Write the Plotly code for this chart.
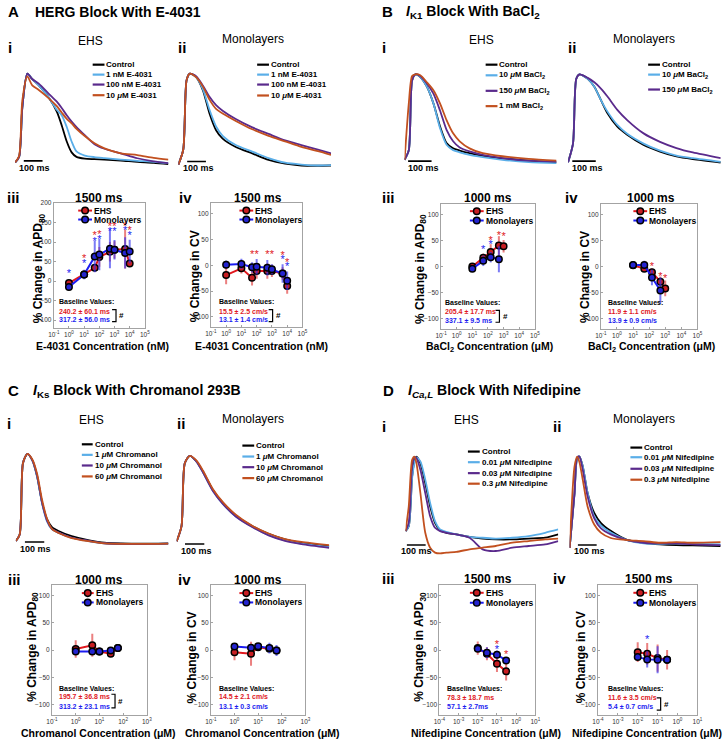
import plotly.graph_objects as go

W, H = 728, 739
FONT = "Liberation Sans"

C_CTRL = "#000000"
C_LB = "#5aaee8"
C_PU = "#5a2a8c"
C_OR = "#c2501f"
C_RED = "#e0181e"
C_BLUE = "#1c1cf0"
C_RED_ERR = "rgba(225,60,60,0.65)"
C_BLUE_ERR = "rgba(50,50,240,0.65)"

# ======================= DATA =======================
# ---- A: HERG block with E-4031 : action potentials (time ms, amplitude % of peak)
A_i_time = [0, 21, 38, 65, 91, 126, 178, 222, 248, 275, 301, 327, 371, 423, 476, 563, 651, 738, 817]
A_i_control = [2, 8, 62, 100, 94, 87, 74, 58, 43, 25, 13, 8, 6, 5.5, 5, 4, 2.5, 1.5, 0]
A_i_1nM = [2, 8, 62, 100, 94, 87, 74, 60, 54, 41, 25, 14, 9.5, 7.7, 6.6, 5, 3.7, 2.6, 1]
A_i_100nM = [2, 8, 62, 100, 94, 89, 78, 69, 62, 54, 47, 41, 32, 22, 17, 12, 6.5, 3, 1]
A_i_10uM = [2, 9, 70, 97, 87, 82, 73, 64, 57, 50, 45, 39, 31, 23, 17.5, 12, 10, 7, 5]

A_ii_time = [0, 26, 44, 61, 96, 131, 166, 201, 236, 306, 394, 481, 569, 656, 744, 814]
A_ii_control = [2, 18, 93, 100, 96, 82, 57, 39, 30, 21, 14, 7, 3, 1, 0.7, 1]
A_ii_1nM = [2, 18, 93, 100, 96, 83, 61, 43, 33, 23, 16, 9, 4, 2, 1, 1.4]
A_ii_100nM = [2, 18, 93, 100, 97, 87, 75, 66, 60, 51, 42, 35, 28, 23, 18, 14]
A_ii_10uM = [2, 18, 93, 100, 96, 86, 72, 62, 57, 49, 40, 33, 27, 21, 16.5, 12.5]

# ---- B: IK1 block with BaCl2
B_i_time = [0, 18, 32, 46, 67, 95, 123, 151, 179, 207, 235, 277, 333, 417, 529, 648]
B_i_control = [3, 14, 93, 100, 97, 86, 67, 41, 22, 16, 13.5, 10.5, 7.5, 4.5, 2, 0]
B_i_10uM = [3, 14, 93, 100, 97, 86, 67, 39, 20, 14, 11.5, 8.5, 6, 3, 0.4, -0.8]
B_i_150uM = [3, 14, 93, 100, 98, 89.5, 78, 59, 37, 24, 17, 12.5, 8.5, 5, 2, 1]
B_i_1mM = [3, 67, 98, 100, 99, 91, 82, 67, 48, 33, 24, 16, 10.5, 7, 4, 2]

B_ii_time = [0, 21, 35, 49, 84, 112, 140, 168, 210, 252, 322, 392, 462, 532, 651]
B_ii_control = [1, 22, 95, 100, 95, 86, 71, 56, 41, 32, 20.5, 13, 7.5, 4.5, 0.7]
B_ii_10uM = [1, 22, 95, 100, 95, 86, 71, 58, 43, 33, 22, 14, 8.5, 5.6, 1.5]
B_ii_150uM = [1, 22, 95, 100, 96, 91, 84, 75, 60, 48.5, 33.5, 24, 17, 12, 5.6]

# ---- C: IKs block with Chromanol 293B
C_i_time = [0, 20, 37, 60, 85, 110, 136, 162, 187, 221, 289, 374, 459, 629, 790]
C_i_control = [3.7, 11, 90, 100, 93, 75, 46, 27.5, 19, 14.7, 9, 4.8, 1.8, 0.7, 1.1]
C_i_1uM = [3.7, 11, 90, 100, 93, 75, 45, 25, 16.5, 12.8, 7.3, 3.7, 1, 0.4, 0.7]
C_i_10uM = [3.7, 11, 90, 100, 93, 76, 46, 26, 17, 13, 7.5, 4, 1.2, 0.4, 0.9]
C_i_60uM = [3.7, 11, 90, 100, 94, 78, 49, 28, 17, 12.5, 7, 3.5, 1, 0.5, 0.9]

C_ii_time = [0, 25, 42, 68, 102, 136, 187, 238, 306, 391, 476, 561, 646, 790]
C_ii_control = [7, 23.5, 92, 100, 94, 83, 63, 49, 35, 23.5, 15, 9, 5.4, 1.8]
C_ii_1uM = [7, 23.5, 92, 100, 94, 82, 62, 48, 34, 23, 14, 8, 4.5, 1]
C_ii_10uM = [7, 23.5, 92, 100, 94, 82, 62, 48, 34, 22.5, 13.5, 7.5, 4, 0]
C_ii_60uM = [7, 23.5, 92, 100, 95, 84, 64, 50, 36, 24, 15.5, 9.5, 6.5, 2.9]

# ---- D: ICa,L block with Nifedipine
D_i_time = [0, 17, 35, 47, 58, 79, 105, 131, 157, 184, 219, 271, 341, 411, 481, 569, 656, 744, 814]
D_i_control = [10, 16, 76, 94, 100, 92, 68, 40, 20, 11, 8, 6, 3, 1, 0, 0, 1, 2, 6]
D_i_001uM = [10, 16, 74, 92, 99, 94, 72, 44, 22, 12, 9, 6, 3, 2, 1, 2, 4, 8, 12]
D_i_003uM = [10, 20, 88, 99, 98, 84, 56, 28, 14, 10, 8, 6, 2, -12, -14, -10, -8, -6, -2]
D_i_03uM = [10, 40, 96, 100, 92, 56, 8, -10, -16, -17, -16, -15, -12, -10, -8, -4, -2, 0, 1]

D_ii_time = [0, 26, 40, 52, 70, 96, 131, 166, 219, 306, 394, 481, 569, 656, 805]
D_ii_control = [-2, 59, 98, 100, 89, 59, 37, 26, 17, 7, 3.7, 1.9, 1, 0.7, 0]
D_ii_001uM = [-2, 59, 98, 100, 89, 59, 33, 23, 15, 6.7, 3, 2.6, 3, 2.6, 1.9]
D_ii_003uM = [-2, 59, 99, 100, 85, 55, 31, 20, 13, 6.7, 3.7, 3, 3, 1.9, 1.1]
D_ii_03uM = [-2, 89, 100, 94, 74, 44, 24, 15, 9, 6.7, 5.6, 3.7, 4.4, 3.7, 4.4]

# ---- Dose-response (% change), concentrations
A_conc_nM = [1, 10, 50, 100, 500, 1000, 5000, 10000]
A_iii_ehs = [-5, 17, 34, 62, 75, 80, 82, 45]
A_iii_ehs_err = [8, 10, 10, 25, 25, 22, 50, 8]
A_iii_mono = [-15, 17, 63, 68, 83, 80, 72, 76]
A_iii_mono_err = [8, 12, 40, 40, 50, 25, 40, 30]
A_iii_star_ehs_x = [10, 50, 100, 500, 1000, 5000, 10000]
A_iii_star_ehs_y = [56, 114, 118, 137, 137, 139, 127]
A_iii_star_mono_x = [1, 10, 50, 100, 500, 1000, 5000, 10000]
A_iii_star_mono_y = [18, 44, 100, 104, 124, 124, 127, 114]

A_iv_ehs = [-19, -6, -24, -11, -11, -11, -16, -40]
A_iv_ehs_err = [18, 10, 15, 15, 15, 12, 12, 15]
A_iv_mono = [1, 2.5, -4, -3, -5, -8, -16, -30]
A_iv_mono_err = [8, 10, 10, 15, 15, 10, 18, 18]
A_iv_star_ehs_x = [50, 100, 500, 1000, 5000, 10000]
A_iv_star_ehs_y = [20, 19, 20, 20, 18, 4]
A_iv_star_mono_x = [5000, 10000]
A_iv_star_mono_y = [9.5, -3.5]

B_conc_ehs = [10, 50, 150, 500, 1000]
B_conc_mono = [10, 50, 150, 500]
B_iii_ehs = [0, 17, 28, 40.5, 39]
B_iii_ehs_err = [5, 8, 15, 18, 12]
B_iii_mono = [-4, 11, 18, 14]
B_iii_mono_err = [3, 10, 10, 25]
B_iii_star_ehs_x = [150, 500, 1000]
B_iii_star_ehs_y = [48, 58, 56]
B_iii_star_mono_x = [50, 150]
B_iii_star_mono_y = [31, 40]

B_iv_ehs = [2.5, -4, -11, -29, -42]
B_iv_ehs_err = [3, 5, 8, 10, 15]
B_iv_mono = [3, 3, -21, -46]
B_iv_mono_err = [3, 8, 15, 25]
B_iv_star_ehs_x = [150, 500, 1000]
B_iv_star_ehs_y = [-2, -21, -25]

C_conc_uM = [1, 5, 10, 30, 60]
C_iii_ehs = [2, 9, -2.5, -6.5, 3.7]
C_iii_ehs_err = [16, 21, 4, 5, 5]
C_iii_mono = [-2.4, -2.4, -2.4, -0.6, 3.7]
C_iii_mono_err = [5, 5, 5, 5, 5]
C_iv_ehs = [-3.7, -6.7, 5.5, 2.4, -0.6]
C_iv_ehs_err = [15, 22, 5, 5, 5]
C_iv_mono = [6.7, 4.3, 7.3, 3.7, -0.6]
C_iv_mono_err = [5, 5, 5, 10, 10]

D_conc_uM = [0.01, 0.03, 0.1, 0.3]
D_iii_ehs = [3.7, -6.7, -25, -39]
D_iii_ehs_err = [12, 12, 15, 17]
D_iii_mono = [2.4, -4.9, -8.5, -19]
D_iii_mono_err = [5, 10, 8, 5]
D_iii_star_ehs_x = [0.1, 0.3]
D_iii_star_ehs_y = [9.5, -10]
D_iii_star_mono_x = [0.1]
D_iii_star_mono_y = [0.5]
D_iv_ehs = [-3.7, -6.7, -14.6, -17.7]
D_iv_ehs_err = [18, 20, 25, 18]
D_iv_mono = [-12.8, -17, -17.7, -17.7]
D_iv_mono_err = [5, 15, 25, 5]
D_iv_star_mono_x = [0.03]
D_iv_star_mono_y = [18.5]

# Baseline values text
BASE = {
    "Aiii": ("240.2 ± 60.1 ms", "317.2 ± 56.0 ms"),
    "Aiv": ("15.5 ± 2.5 cm/s", "13.1 ± 1.4 cm/s"),
    "Biii": ("205.4 ± 17.7 ms", "337.1 ± 9.5 ms"),
    "Biv": ("11.9 ± 1.1 cm/s", "13.9 ± 0.9 cm/s"),
    "Ciii": ("195.7 ± 36.8 ms", "313.2 ± 23.1 ms"),
    "Civ": ("14.5 ± 2.1 cm/s", "13.1 ± 0.3 cm/s"),
    "Diii": ("78.3 ± 18.7 ms", "57.1 ± 2.7ms"),
    "Div": ("11.6 ± 3.5 cm/s", "5.4 ± 0.7 cm/s"),
}

# ======================= FIGURE =======================
fig = go.Figure()
layout = {}
annotations = []
shapes = []


def fx(px):
    return px / W


def fy(py):
    return 1 - py / H


def ann(text, px, py, size=8, color="#000", xanchor="left", yanchor="middle",
        angle=0, bold=True, family=FONT):
    t = f"<b>{text}</b>" if bold else text
    annotations.append(dict(text=t, x=fx(px), y=fy(py), xref="paper", yref="paper",
                            xanchor=xanchor, yanchor=yanchor, showarrow=False,
                            textangle=angle, borderpad=0,
                            font=dict(size=size, color=color, family=family)))


def axkeys(n):
    return ("xaxis" if n == 1 else f"xaxis{n}", "yaxis" if n == 1 else f"yaxis{n}",
            "x" if n == 1 else f"x{n}", "y" if n == 1 else f"y{n}")


def trace_panel(n, x0, msppx, tmax, base, peak, t, series, bar_t, bar_py,
                lab_px, lab_py, leg_x0, leg_x1, leg_tx, leg_rows):
    xk, yk, xr, yr = axkeys(n)
    k = (base - peak) / 100.0
    ymin, ymax = -30, 110
    top = peak - (ymax - 100) * k
    bot = base - ymin * k
    layout[xk] = dict(domain=[fx(x0), fx(x0 + tmax / msppx)], range=[0, tmax],
                      visible=False, anchor=yr)
    layout[yk] = dict(domain=[fy(bot), fy(top)], range=[ymin, ymax], visible=False, anchor=xr)
    for name, vals, col in series:
        fig.add_trace(go.Scatter(x=t, y=vals, mode="lines", name=name,
                                 line=dict(color=col, width=1.8, shape="spline", smoothing=0.7),
                                 xaxis=xr, yaxis=yr, showlegend=False, hoverinfo="skip"))
    # 100 ms scale bar
    shapes.append(dict(type="line", xref=xr, yref="paper", x0=bar_t, x1=bar_t + 100,
                       y0=fy(bar_py), y1=fy(bar_py), line=dict(color="black", width=1.6)))
    ann("100 ms", lab_px, lab_py, size=9)
    # legend
    for (name, _, col), py in zip(series, leg_rows):
        shapes.append(dict(type="line", xref="paper", yref="paper", x0=fx(leg_x0), x1=fx(leg_x1),
                           y0=fy(py), y1=fy(py), line=dict(color=col, width=2.2)))
        ann(name, leg_tx, py, size=8)


def dose_panel(n, bx0, bx1, by0, by1, yrange, xexp, yticks,
               ex, ey, ee, mx, my, me, sex=None, sey=None, smx=None, smy=None,
               leg_x0=0, leg_x1=0, leg_tx=0, leg_rows=(0, 0)):
    xk, yk, xr, yr = axkeys(n)
    tv = [10.0 ** e for e in range(xexp[0], xexp[1] + 1)]
    tt = [f"10<sup>{e}</sup>" for e in range(xexp[0], xexp[1] + 1)]
    common = dict(showline=True, mirror=True, linecolor="#a3a3a3", linewidth=1,
                  showgrid=False, zeroline=False, ticks="inside", ticklen=2,
                  tickcolor="#a3a3a3", tickfont=dict(size=6.5, color="#333", family=FONT))
    layout[xk] = dict(domain=[fx(bx0), fx(bx1)], type="log", range=list(xexp),
                      tickvals=tv, ticktext=tt, anchor=yr, **common)
    layout[yk] = dict(domain=[fy(by1), fy(by0)], range=list(yrange), tickvals=yticks,
                      anchor=xr, **common)
    fig.add_trace(go.Scatter(x=ex, y=ey, mode="lines+markers", name="EHS",
                             line=dict(color=C_RED, width=2),
                             marker=dict(size=6.5, color="#c81e22", line=dict(color="black", width=1.5)),
                             error_y=dict(type="data", array=ee, color=C_RED_ERR, thickness=2, width=0),
                             xaxis=xr, yaxis=yr, showlegend=False, hoverinfo="skip"))
    fig.add_trace(go.Scatter(x=mx, y=my, mode="lines+markers", name="Monolayers",
                             line=dict(color=C_BLUE, width=2),
                             marker=dict(size=6.5, color="#2424d0", line=dict(color="black", width=1.5)),
                             error_y=dict(type="data", array=me, color=C_BLUE_ERR, thickness=2, width=0),
                             xaxis=xr, yaxis=yr, showlegend=False, hoverinfo="skip"))
    if sex:
        fig.add_trace(go.Scatter(x=sex, y=sey, mode="text", text=["*"] * len(sex),
                                 textfont=dict(size=11, color=C_RED, family=FONT),
                                 xaxis=xr, yaxis=yr, showlegend=False, hoverinfo="skip"))
    if smx:
        fig.add_trace(go.Scatter(x=smx, y=smy, mode="text", text=["*"] * len(smx),
                                 textfont=dict(size=11, color=C_BLUE, family=FONT),
                                 xaxis=xr, yaxis=yr, showlegend=False, hoverinfo="skip"))
    # legend
    for (name, col, fill), py in zip((("EHS", C_RED, "#c81e22"), ("Monolayers", C_BLUE, "#2424d0")), leg_rows):
        shapes.append(dict(type="line", xref="paper", yref="paper", x0=fx(leg_x0), x1=fx(leg_x1),
                           y0=fy(py), y1=fy(py), line=dict(color=col, width=2)))
        cx = (leg_x0 + leg_x1) / 2
        shapes.append(dict(type="circle", xref="paper", yref="paper", x0=fx(cx - 3.3), x1=fx(cx + 3.3),
                           y0=fy(py + 3.3), y1=fy(py - 3.3), fillcolor=fill,
                           line=dict(color="black", width=1.5)))
        ann(name, leg_tx, py, size=8.5)


def baseline(key, px, rows, bracket=None):
    red, blue = BASE[key]
    ann("Baseline Values:", px, rows[0], size=7)
    ann(red, px, rows[1], size=7, color=C_RED)
    ann(blue, px, rows[2], size=7, color=C_BLUE)
    if bracket:
        bx0, bx1, byt, byb, hx = bracket
        shapes.append(dict(type="path", xref="paper", yref="paper",
                           path=f"M {fx(bx0)},{fy(byt)} L {fx(bx1)},{fy(byt)} L {fx(bx1)},{fy(byb)} L {fx(bx0)},{fy(byb)}",
                           line=dict(color="black", width=1.2)))
        ann("#", hx, (byt + byb) / 2, size=8)


mu = "<i>μ</i>"

# ---------------- trace panels ----------------
trace_panel(1, 9.3, 5.25, 817, 161, 70, A_i_time,
            [("Control", A_i_control, C_CTRL), ("1 nM E-4031", A_i_1nM, C_LB),
             ("100 nM E-4031", A_i_100nM, C_PU), (f"10 {mu}M E-4031", A_i_10uM, C_OR)],
            46, 157.7, 12.5, 164.5, 88, 100, 101, [61, 71, 81, 91.7])
trace_panel(2, 175, 5.25, 814, 163.3, 70, A_ii_time,
            [("Control", A_ii_control, C_CTRL), ("1 nM E-4031", A_ii_1nM, C_LB),
             ("100 nM E-4031", A_ii_100nM, C_PU), (f"10 {mu}M E-4031", A_ii_10uM, C_OR)],
            47, 158.3, 178.5, 164.5, 255, 267, 268, [61, 71, 81, 92])
trace_panel(3, 404.7, 4.2, 648, 159.3, 70.7, B_i_time,
            [("Control", B_i_control, C_CTRL), (f"10 {mu}M BaCl<sub>2</sub>", B_i_10uM, C_LB),
             (f"150 {mu}M BaCl<sub>2</sub>", B_i_150uM, C_PU), ("1 mM BaCl<sub>2</sub>", B_i_1mM, C_OR)],
            15, 158, 407, 165, 487, 499, 500, [61, 71.7, 87.3, 102.7])
trace_panel(4, 570.7, 4.2, 651, 160, 70.7, B_ii_time,
            [("Control", B_ii_control, C_CTRL), (f"10 {mu}M BaCl<sub>2</sub>", B_ii_10uM, C_LB),
             (f"150 {mu}M BaCl<sub>2</sub>", B_ii_150uM, C_PU)],
            18, 158, 573.5, 165, 652, 664, 665, [61, 71, 86])
trace_panel(5, 10, 5.1, 790, 543.3, 452.3, C_i_time,
            [("Control", C_i_control, C_CTRL), (f"1 {mu}M Chromanol", C_i_1uM, C_LB),
             (f"10 {mu}M Chromanol", C_i_10uM, C_PU), (f"60 {mu}M Chromanol", C_i_60uM, C_OR)],
            47, 541, 13, 548, 77, 88, 89, [442.7, 453.3, 464, 475])
trace_panel(6, 173.3, 5.1, 790, 546.7, 454.3, C_ii_time,
            [("Control", C_ii_control, C_CTRL), (f"1 {mu}M Chromanol", C_ii_1uM, C_LB),
             (f"10 {mu}M Chromanol", C_ii_10uM, C_PU), (f"60 {mu}M Chromanol", C_ii_60uM, C_OR)],
            43, 543, 176.5, 549.5, 240, 252, 253, [444, 455, 465.7, 476.7])
trace_panel(7, 405.7, 5.25, 814, 538.3, 455, D_i_time,
            [("Control", D_i_control, C_CTRL), (f"0.01 {mu}M Nifedipine", D_i_001uM, C_LB),
             (f"0.03 {mu}M Nifedipine", D_i_003uM, C_PU), (f"0.3 {mu}M Nifedipine", D_i_03uM, C_OR)],
            7, 544, 400.5, 549.5, 469, 481, 482, [450, 460.7, 471.7, 482.3])
trace_panel(8, 572.3, 5.25, 805, 545, 455, D_ii_time,
            [("Control", D_ii_control, C_CTRL), (f"0.01 {mu}M Nifedipine", D_ii_001uM, C_LB),
             (f"0.03 {mu}M Nifedipine", D_ii_003uM, C_PU), (f"0.3 {mu}M Nifedipine", D_ii_03uM, C_OR)],
            44, 544, 576, 549.5, 634, 646, 647, [446, 455.7, 467.3, 478.3])

# ---------------- dose-response panels ----------------
Y5 = [-100, -50, 0, 50, 100]
dose_panel(9, 48.5, 141, 200, 325.8, (-120, 200), (-1, 5), [-100, -50, 0, 50, 100, 150, 200],
           A_conc_nM, A_iii_ehs, A_iii_ehs_err, A_conc_nM, A_iii_mono, A_iii_mono_err,
           A_iii_star_ehs_x, A_iii_star_ehs_y, A_iii_star_mono_x, A_iii_star_mono_y,
           73.3, 87.3, 88.3, (207.7, 216.7))
dose_panel(10, 208, 301, 200.3, 325, (-120, 120), (-1, 5), Y5,
           A_conc_nM, A_iv_ehs, A_iv_ehs_err, A_conc_nM, A_iv_mono, A_iv_mono_err,
           A_iv_star_ehs_x, A_iv_star_ehs_y, A_iv_star_mono_x, A_iv_star_mono_y,
           237, 251, 252, (207.7, 216.7))
dose_panel(11, 441.7, 537, 201.2, 326.8, (-120, 120), (-1, 5), Y5,
           B_conc_ehs, B_iii_ehs, B_iii_ehs_err, B_conc_mono, B_iii_mono, B_iii_mono_err,
           B_iii_star_ehs_x, B_iii_star_ehs_y, B_iii_star_mono_x, B_iii_star_mono_y,
           471, 485, 486, (208.3, 217.7))
dose_panel(12, 604, 702, 201.2, 326.8, (-120, 120), (-1, 5), Y5,
           B_conc_ehs, B_iv_ehs, B_iv_ehs_err, B_conc_mono, B_iv_mono, B_iv_mono_err,
           B_iv_star_ehs_x, B_iv_star_ehs_y, None, None,
           637, 651, 652, (208.3, 217.7))
dose_panel(13, 46.7, 143, 584, 715.3, (-120, 120), (-1, 3), Y5,
           C_conc_uM, C_iii_ehs, C_iii_ehs_err, C_conc_uM, C_iii_mono, C_iii_mono_err,
           None, None, None, None, 77, 89, 90, (592.3, 601.7))
dose_panel(14, 208, 304, 584, 715.3, (-120, 120), (-1, 3), Y5,
           C_conc_uM, C_iv_ehs, C_iv_ehs_err, C_conc_uM, C_iv_mono, C_iv_mono_err,
           None, None, None, None, 237, 251, 252, (592.3, 601.7))
dose_panel(15, 440, 537.5, 584, 715.3, (-120, 120), (-4, 1), Y5,
           D_conc_uM, D_iii_ehs, D_iii_ehs_err, D_conc_uM, D_iii_mono, D_iii_mono_err,
           D_iii_star_ehs_x, D_iii_star_ehs_y, D_iii_star_mono_x, D_iii_star_mono_y,
           471, 485, 486, (592, 602))
dose_panel(16, 601, 702, 584, 715.3, (-120, 120), (-4, 1), Y5,
           D_conc_uM, D_iv_ehs, D_iv_ehs_err, D_conc_uM, D_iv_mono, D_iv_mono_err,
           None, None, D_iv_star_mono_x, D_iv_star_mono_y,
           637, 651, 652, (592, 602))

# baseline boxes
baseline("Aiii", 52.7, (299.3, 308.7, 317.7), (107.7, 111.7, 307.3, 319.3, 114))
baseline("Aiv", 215, (299.3, 308.7, 317.7), (266.7, 270.7, 307.3, 319.3, 273.5))
baseline("Biii", 445, (300, 309.3, 318.7), (497, 501, 308, 320, 504))
baseline("Biv", 610.7, (300, 309.3, 318.7))
baseline("Ciii", 52.7, (688.3, 696.7, 706), (107, 110.7, 694, 707.7, 113))
baseline("Civ", 215, (688.3, 696.7, 706))
baseline("Diii", 446.7, (688.3, 697, 706))
baseline("Div", 610.7, (688.3, 697, 706), (660.7, 664.7, 697.7, 710, 667))

# ---------------- headings & labels ----------------
ann("A", 1.5, 8, size=15)
ann("HERG Block With E-4031", 28, 8, size=14)
ann("B", 381, 8, size=15)
ann("<i>I</i><sub>K1</sub> Block With BaCl<sub>2</sub>", 405.5, 8.5, size=14)
ann("C", 1.5, 389, size=15)
ann("<i>I</i><sub>Ks</sub> Block With Chromanol 293B", 26.5, 389.5, size=14)
ann("D", 382, 388.5, size=15)
ann("<i>I<sub>Ca,L</sub></i> Block With Nifedipine", 407, 389, size=14)

for txt, px, py in [("i", 1.5, 43.3), ("ii", 174, 43.3), ("i", 381, 43.3), ("ii", 569.5, 43.3),
                    ("i", 0.5, 421.7), ("ii", 173, 422), ("i", 381, 424.3), ("ii", 554.5, 425),
                    ("iii", 0, 195), ("iv", 175, 195), ("iii", 381, 195), ("iv", 567, 195),
                    ("iii", 1.5, 579), ("iv", 174, 579), ("iii", 381, 578), ("iv", 554, 578)]:
    ann(txt, px, py, size=15)

for txt, px, py in [("EHS", 86, 36.7), ("Monolayers", 251, 35), ("EHS", 482.7, 36), ("Monolayers", 648, 35),
                    ("EHS", 86.5, 418.3), ("Monolayers", 251, 417.3), ("EHS", 468, 418.3),
                    ("Monolayers", 648, 417)]:
    ann(txt, px, py, size=12, xanchor="center", bold=False)

for txt, px, py in [("1500 ms", 94, 195.3), ("1500 ms", 255.8, 195.3), ("1000 ms", 489, 195.3),
                    ("1000 ms", 655, 195.3), ("1000 ms", 94.2, 579), ("1000 ms", 255.8, 579),
                    ("1500 ms", 489, 578.5), ("1500 ms", 653, 578.5)]:
    ann(txt, px, py, size=12, xanchor="center")

for txt, px, py in [("% Change in APD<sub>80</sub>", 33.3, 266), ("% Change in CV", 191.7, 274),
                    ("% Change in APD<sub>80</sub>", 420.7, 266), ("% Change in CV", 587.3, 274),
                    ("% Change in APD<sub>80</sub>", 26.7, 646), ("% Change in CV", 188.3, 656.5),
                    ("% Change in APD<sub>30</sub>", 421, 646.7), ("% Change in CV", 584.7, 657)]:
    ann(txt, px, py, size=12, xanchor="center", angle=-90)

for txt, px, py in [("E-4031 Concentration (nM)", 97.7, 344), ("E-4031 Concentration (nM)", 259, 344),
                    ("BaCl<sub>2</sub> Concentration (μM)", 490.7, 344.5),
                    ("BaCl<sub>2</sub> Concentration (μM)", 655, 344.5),
                    ("Chromanol Concentration (μM)", 94.2, 733), ("Chromanol Concentration (μM)", 260.5, 733),
                    ("Nifedipine Concentration (μM)", 487, 733), ("Nifedipine Concentration (μM)", 650.7, 733)]:
    ann(txt, px, py, size=10.5, xanchor="center")

fig.update_layout(width=W, height=H, margin=dict(l=0, r=0, t=0, b=0),
                  paper_bgcolor="white", plot_bgcolor="white", showlegend=False,
                  hovermode=False, annotations=annotations, shapes=shapes, **layout)

fig.write_html("out.html", config={"displayModeBar": False, "staticPlot": True},
               post_script="document.body.style.margin='0';document.body.style.padding='0';"
                           "document.documentElement.style.overflow='hidden';")
